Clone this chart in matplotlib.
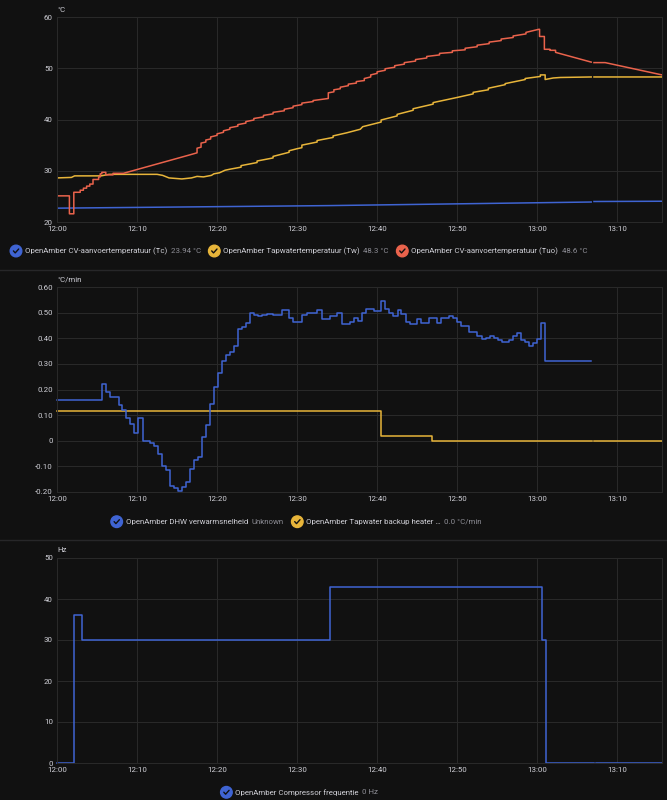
import numpy as np
import matplotlib.pyplot as plt
from matplotlib.lines import Line2D
from matplotlib.patches import Circle
from matplotlib.ticker import FuncFormatter, MultipleLocator

nan = np.nan

# time axis: minutes after 12:00
x_ticks = [0, 10, 20, 30, 40, 50, 60, 70]
x_max = 75.6

# panel 1, temperatures in degC (repeated times give the vertical risers)
tc_t = [0, 34.0, 66.75, 66.9, 67.1, 75.6]
tc_v = [22.7, 23.2, 23.9, nan, 24.0, 24.05]

tw_t = [0, 1.8, 2.2, 5.5, 6.5, 12.5, 13.2, 14.0, 15.6, 16.8, 17.5, 18.3, 19.3, 19.6,
        20.3, 21.0, 21.6, 23.0, 23.0, 25.0, 25.0, 27.0, 27.0, 29.0, 29.0, 30.0, 30.6,
        30.6, 32.5, 32.5, 34.5, 34.5, 36.2, 37.9, 38.2, 40.5, 40.5, 42.5, 42.5, 44.5,
        44.5, 47.0, 47.0, 50.0, 52.0, 52.0, 53.9, 53.9, 56.0, 56.0, 58.5, 58.5, 60.4,
        60.4, 61.0, 61.0, 62.0, 62.9, 66.75, 66.9, 67.1, 75.6]
tw_v = [28.6, 28.7, 29.0, 29.0, 29.3, 29.3, 29.1, 28.6, 28.4, 28.6, 28.9, 28.8, 29.1, 29.4,
        29.6, 30.1, 30.3, 30.7, 31.0, 31.6, 31.9, 32.5, 32.8, 33.6, 33.9, 34.3, 34.5,
        35.0, 35.6, 35.9, 36.5, 36.8, 37.4, 38.1, 38.6, 39.5, 39.9, 40.7, 41.0, 41.8,
        42.1, 43.0, 43.3, 44.3, 45.0, 45.3, 45.8, 46.1, 46.8, 47.0, 47.8, 48.0, 48.4,
        48.7, 48.7, 47.8, 48.1, 48.2, 48.3, nan, 48.3, 48.3]

tuo_t = [0, 1.55, 1.55, 2.1, 2.1, 2.9, 2.9, 3.3, 3.3, 3.7, 3.7, 4.1, 4.1, 4.5, 4.5,
         5.2, 5.2, 5.4, 5.4, 5.6, 5.6, 6.1, 6.1, 7.0, 7.0, 8.3, 16.6, 17.5, 17.5, 18.0,
         18.0, 18.6, 18.6, 19.2, 19.2, 20.0, 20.0, 20.8, 20.8, 21.6, 21.6, 22.6, 22.6,
         23.6, 23.6, 24.6, 24.6, 25.8, 25.8, 27.0, 27.0, 28.4, 28.4, 29.5, 29.5, 30.6,
         30.6, 32.0, 32.0, 33.9, 33.9, 34.6, 34.6, 35.4, 35.4, 36.4, 36.4, 37.4, 37.4,
         38.4, 38.4, 39.2, 39.2, 40.0, 40.0, 41.0, 41.0, 42.2, 42.2, 43.4, 43.4, 44.8,
         44.8, 46.2, 46.2, 47.8, 47.8, 49.4, 49.4, 51.0, 51.0, 52.5, 52.5, 54.0, 54.0,
         55.5, 55.5, 57.0, 57.0, 58.6, 58.6, 60.2, 60.3, 60.3, 60.9, 60.9, 61.6, 61.6,
         62.3, 62.3, 66.75, 66.9, 67.1, 68.5, 75.6]
tuo_v = [25.1, 25.1, 21.6, 21.6, 25.8, 25.8, 26.2, 26.2, 26.6, 26.6, 27.0, 27.0, 27.4, 27.4,
         28.3, 28.3, 28.8, 28.8, 29.4, 29.4, 29.7, 29.7, 29.2, 29.2, 29.5, 29.5, 33.1, 33.5,
         34.4, 34.6, 35.4, 35.6, 36.0, 36.2, 36.6, 36.9, 37.2, 37.5, 37.8, 38.1, 38.4, 38.7,
         39.0, 39.3, 39.6, 39.9, 40.2, 40.5, 40.8, 41.1, 41.4, 41.7, 42.0, 42.3, 42.6, 42.9,
         43.2, 43.5, 43.7, 44.1, 45.2, 45.4, 45.8, 46.0, 46.3, 46.6, 46.9, 47.1, 47.4, 47.6,
         48.0, 48.3, 48.7, 49.0, 49.3, 49.6, 49.9, 50.2, 50.5, 50.8, 51.1, 51.4, 51.7, 52.0,
         52.3, 52.6, 52.9, 53.1, 53.4, 53.6, 53.9, 54.2, 54.5, 54.8, 55.1, 55.4, 55.7, 56.0,
         56.3, 56.7, 57.0, 57.6, 57.6, 56.2, 56.2, 53.7, 53.7, 53.5, 53.5, 53.1, 51.2, nan,
         51.1, 51.1, 48.7]

# panel 2, heating rate in degC/min (step after)
dhw_t = [0, 5.6, 6.1, 6.6, 7.7, 8.1, 8.6, 9.1, 9.6, 10.1, 10.7, 11.6, 12.1, 12.6, 13.1,
         13.6, 14.1, 14.6, 15.1, 15.6, 16.1, 16.6, 17.1, 17.6, 18.1, 18.6, 19.1, 19.6,
         20.1, 20.6, 21.1, 21.6, 22.1, 22.6, 23.1, 23.6, 24.1, 24.6, 25.1, 25.6, 26.2,
         27.0, 28.1, 29.0, 29.5, 30.6, 31.2, 32.5, 33.1, 34.1, 35.0, 35.6, 36.6, 37.1,
         37.6, 38.1, 38.6, 39.6, 40.5, 41.0, 41.5, 42.0, 42.6, 43.0, 43.6, 44.1, 45.0,
         45.5, 46.5, 47.5, 48.0, 49.0, 49.5, 50.0, 50.5, 51.5, 52.5, 53.1, 53.6, 54.1,
         54.6, 55.1, 55.6, 56.5, 57.0, 57.5, 58.0, 58.5, 59.0, 59.5, 60.0, 60.5, 61.0, 66.7]
dhw_v = [0.16, 0.22, 0.19, 0.17, 0.14, 0.12, 0.09, 0.065, 0.03, 0.09, 0.0, -0.01, -0.02,
         -0.05, -0.10, -0.115, -0.175, -0.185, -0.195, -0.18, -0.16, -0.11, -0.075, -0.065,
         0.015, 0.06, 0.145, 0.21, 0.265, 0.31, 0.335, 0.345, 0.37, 0.435, 0.445, 0.46,
         0.50, 0.49, 0.485, 0.49, 0.495, 0.49, 0.51, 0.478, 0.465, 0.49, 0.50, 0.51, 0.475,
         0.485, 0.50, 0.455, 0.465, 0.478, 0.468, 0.497, 0.513, 0.507, 0.545, 0.513, 0.50,
         0.488, 0.51, 0.495, 0.465, 0.454, 0.475, 0.46, 0.478, 0.46, 0.478, 0.488, 0.478,
         0.465, 0.448, 0.425, 0.41, 0.396, 0.40, 0.41, 0.40, 0.392, 0.385, 0.392, 0.41,
         0.42, 0.392, 0.385, 0.37, 0.38, 0.397, 0.458, 0.311, 0.311]

backup_t = [0, 40.5, 46.9, 66.75, 66.9, 67.1, 75.6]
backup_v = [0.117, 0.019, 0.0, 0.0, nan, 0.0, 0.0]

# panel 3, compressor frequency in Hz (step after)
comp_t = [0, 2.15, 3.1, 34.1, 60.6, 61.1, 66.9, 67.1, 67.4, 75.6]
comp_v = [0, 36, 30, 43, 30, 0, 0, nan, 0, 0]

BG = "#111111"
GRID = "#2a2a2a"
TXT = "#cfcfd6"
DIM = "#8e8e96"
BLUE = "#3f64d3"
YELLOW = "#e8b53a"
RED = "#ea634c"

W, H = 667, 800
plt.rcParams["font.family"] = ["Roboto", "DejaVu Sans"]
fig = plt.figure(figsize=(W / 100, H / 100), dpi=100, facecolor=BG)


def px_axes(left, top, right, bottom):
    return fig.add_axes([left / W, 1 - bottom / H, (right - left) / W, (bottom - top) / H])


def style(ax, ylim, ystep, yfmt, unit, unit_y):
    ax.set_facecolor(BG)
    ax.set_xlim(0, x_max)
    ax.set_ylim(*ylim)
    ax.xaxis.set_major_locator(plt.FixedLocator(x_ticks))
    ax.xaxis.set_major_formatter(FuncFormatter(lambda m, p: f"{12 + int(m) // 60}:{int(m) % 60:02d}"))
    ax.yaxis.set_major_locator(MultipleLocator(ystep))
    ax.yaxis.set_major_formatter(FuncFormatter(yfmt))
    ax.grid(True, color=GRID, lw=0.7)
    ax.set_axisbelow(True)
    for s in ax.spines.values():
        s.set_color(GRID)
        s.set_linewidth(0.7)
    ax.tick_params(length=0, colors=TXT, labelsize=5.7, pad=3)
    fig.text(57 / W, 1 - unit_y / H, unit, color=TXT, fontsize=5.7, va="center", ha="left")


def legend(items, y):
    r = fig.canvas.get_renderer()
    for cx, name, value, color in items:
        fig.add_artist(Circle((cx / 100, (H - y) / 100), 0.058, color=color,
                              transform=fig.dpi_scale_trans))
        ck = np.array([[-2.6, 0.1], [-0.8, -1.9], [2.7, 2.0]])
        fig.add_artist(Line2D((cx + ck[:, 0]) / 100, (H - y + ck[:, 1]) / 100, color=BG, lw=1.0,
                              solid_capstyle="round", solid_joinstyle="round",
                              transform=fig.dpi_scale_trans))
        t = fig.text((cx + 9) / W, 1 - y / H, name, color=TXT, fontsize=5.7, va="center")
        x1 = t.get_window_extent(r).x1
        fig.text((x1 + 3.5) / W, 1 - y / H, value, color=DIM, fontsize=5.7, va="center")


int_fmt = lambda v, p: f"{v:.0f}"
rate_fmt = lambda v, p: "0" if abs(v) < 1e-9 else f"{v:.2f}"

ax1 = px_axes(57, 17, 662, 222)
style(ax1, (20, 60), 10, int_fmt, "°C", 9.5)
ax1.plot(tc_t, tc_v, color=BLUE, lw=1.1)
ax1.plot(tw_t, tw_v, color=YELLOW, lw=1.1)
ax1.plot(tuo_t, tuo_v, color=RED, lw=1.1)

ax2 = px_axes(57, 287, 662, 492)
style(ax2, (-0.2, 0.6), 0.1, rate_fmt, "°C/min", 279)
ax2.plot(backup_t, backup_v, color=YELLOW, lw=1.1, drawstyle="steps-post", clip_on=False)
ax2.plot(dhw_t, dhw_v, color=BLUE, lw=1.1, drawstyle="steps-post", clip_on=False)

ax3 = px_axes(57, 558, 662, 763)
style(ax3, (0, 50), 10, int_fmt, "Hz", 550)
ax3.plot(comp_t, comp_v, color=BLUE, lw=1.1, drawstyle="steps-post", clip_on=False)

# panel separators
for y in (269.5, 539.5):
    fig.add_artist(Line2D([0, 1], [1 - y / H, 1 - y / H], color="#272729", lw=1.0))

legend([(16, "OpenAmber CV-aanvoertemperatuur (Tc)", "23.94 °C", BLUE),
        (214.3, "OpenAmber Tapwatertemperatuur (Tw)", "48.3 °C", YELLOW),
        (402.3, "OpenAmber CV-aanvoertemperatuur (Tuo)", "48.6 °C", RED)], 251)
legend([(116.7, "OpenAmber DHW verwarmsnelheid", "Unknown", BLUE),
        (297.3, "OpenAmber Tapwater backup heater …", "0.0 °C/min", YELLOW)], 521.7)
legend([(226.4, "OpenAmber Compressor frequentie", "0 Hz", BLUE)], 792.3)

fig.savefig("out.png", dpi=100, facecolor=BG)
